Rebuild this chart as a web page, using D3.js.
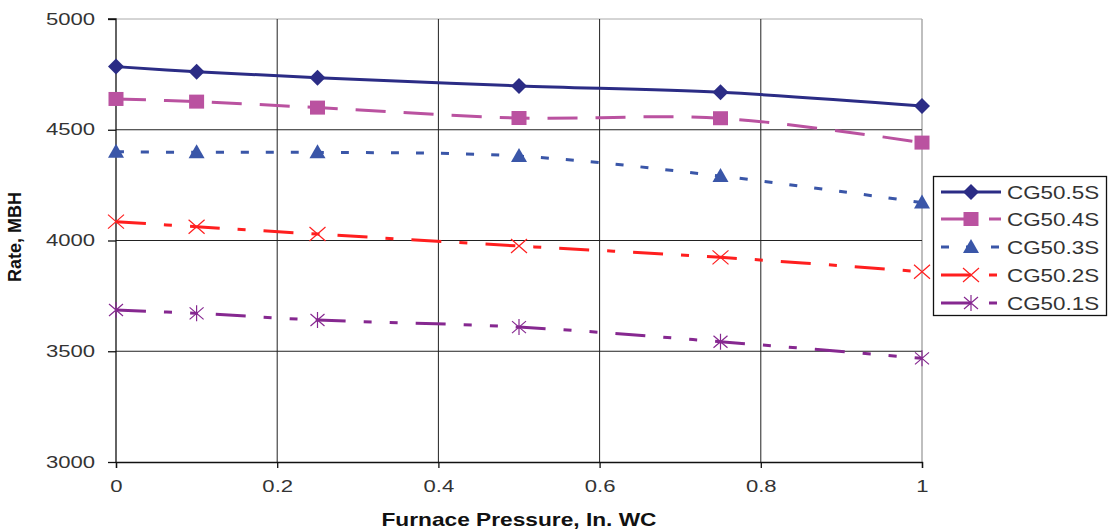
<!DOCTYPE html>
<html><head><meta charset="utf-8">
<script src="https://cdn.jsdelivr.net/npm/d3@7"></script>
<style>body{margin:0;background:#fff;}svg{display:block;}text{font-family:"Liberation Sans",Arial,sans-serif;}</style>
</head><body>
<svg id="c" width="1109" height="531"></svg>
<script>
const xValues = [0, 0.1, 0.25, 0.5, 0.75, 1];
const cg505S = [4785, 4762, 4735, 4698, 4669, 4607];
const cg504S = [4639, 4627, 4600, 4553, 4552, 4442];
const cg503S = [4401, 4398, 4398, 4381, 4291, 4171];
const cg502S = [4085, 4062, 4029, 3975, 3924, 3859];
const cg501S = [3686, 3671, 3641, 3609, 3543, 3468];
const seriesNames = ["CG50.5S", "CG50.4S", "CG50.3S", "CG50.2S", "CG50.1S"];
const xTicks = [0, 0.2, 0.4, 0.6, 0.8, 1];
const yTicks = [3000, 3500, 4000, 4500, 5000];

const series = [
  {name: seriesNames[0], values: cg505S, color: "#2B2C85", dash: null, marker: "diamond"},
  {name: seriesNames[1], values: cg504S, color: "#BA52A0", dash: "30,18", marker: "square"},
  {name: seriesNames[2], values: cg503S, color: "#3A56A8", dash: "8,17", marker: "triangle"},
  {name: seriesNames[3], values: cg502S, color: "#FF1F1F", dash: "30,18,8,18", marker: "x"},
  {name: seriesNames[4], values: cg501S, color: "#862890", dash: "30,18,8,18,8,18", marker: "star"}
];

const svg = d3.select("#c");
const L = 116, R = 922, T = 19, B = 462;
const x = d3.scaleLinear().domain([0, 1]).range([L, R]);
const y = d3.scaleLinear().domain([3000, 5000]).range([B, T]);

function stretch(sel, k) {
  sel.each(function() {
    const w = this.getComputedTextLength();
    d3.select(this).attr("textLength", w * k).attr("lengthAdjust", "spacingAndGlyphs");
  });
}

// plot border (top/right gray)
svg.append("line").attr("x1", L).attr("x2", R).attr("y1", T).attr("y2", T).attr("stroke", "#aaa").attr("stroke-width", 1);
svg.append("line").attr("x1", R).attr("x2", R).attr("y1", T).attr("y2", B).attr("stroke", "#aaa").attr("stroke-width", 1.5);

// gridlines
svg.append("g").selectAll("line").data(yTicks.filter(v => v !== 3000 && v !== 5000)).join("line")
  .attr("x1", L).attr("x2", R).attr("y1", d => y(d)).attr("y2", d => y(d))
  .attr("stroke", "#222").attr("stroke-width", 1);
svg.append("g").selectAll("line").data(xTicks.filter(v => v !== 0 && v !== 1)).join("line")
  .attr("y1", T).attr("y2", B).attr("x1", d => x(d)).attr("x2", d => x(d))
  .attr("stroke", "#222").attr("stroke-width", 1);

// axes
const yAxis = d3.axisLeft(y).tickValues(yTicks).tickSize(8).tickPadding(13).tickFormat(d3.format("d"));
const gy = svg.append("g").attr("transform", `translate(${L},0)`).call(yAxis);
const xAxis = d3.axisBottom(x).tickValues(xTicks).tickSize(6).tickPadding(13).tickFormat(d => d === 0 ? "0" : d === 1 ? "1" : d3.format(".1f")(d));
const gx = svg.append("g").attr("transform", `translate(0,${B})`).call(xAxis);
[gx, gy].forEach(g => {
  g.select(".domain").attr("stroke", "#111").attr("stroke-width", 1.3);
  g.selectAll(".tick line").attr("stroke", "#111").attr("stroke-width", 1.3);
  g.selectAll(".tick text").attr("fill", "#333").style("font-size", "16px").style("font-family", "Liberation Sans, Arial, sans-serif");
  stretch(g.selectAll(".tick text"), 1.38);
});
gy.select(".domain").attr("d", `M-8,${T}H0V${B}`);

// axis titles
const xt = svg.append("text").attr("x", 519).attr("y", 526).attr("text-anchor", "middle")
  .style("font-size", "19px").style("font-weight", "bold").attr("fill", "#111").text("Furnace Pressure, In. WC");
xt.attr("textLength", 275).attr("lengthAdjust", "spacingAndGlyphs");
svg.append("text").attr("transform", `translate(21,237) rotate(-90)`).attr("text-anchor", "middle")
  .style("font-size", "18px").style("font-weight", "bold").attr("fill", "#111").text("Rate, MBH");

function drawMarker(g, type, color, cx, cy) {
  if (type === "diamond") {
    g.append("path").attr("d", `M${cx},${cy-8}L${cx+8},${cy}L${cx},${cy+8}L${cx-8},${cy}Z`).attr("fill", color);
  } else if (type === "square") {
    g.append("rect").attr("x", cx-7.5).attr("y", cy-7).attr("width", 15).attr("height", 14).attr("fill", color);
  } else if (type === "triangle") {
    g.append("path").attr("d", `M${cx},${cy-8}L${cx+8},${cy+6}L${cx-8},${cy+6}Z`).attr("fill", color);
  } else if (type === "x") {
    g.append("path").attr("d", `M${cx-8},${cy-7}L${cx+8},${cy+7}M${cx-8},${cy+7}L${cx+8},${cy-7}`).attr("stroke", color).attr("stroke-width", 1.2).attr("fill", "none");
  } else if (type === "star") {
    g.append("path").attr("d", `M${cx-7},${cy-6}L${cx+7},${cy+6}M${cx-7},${cy+6}L${cx+7},${cy-6}M${cx},${cy-8}L${cx},${cy+8}`).attr("stroke", color).attr("stroke-width", 1.2).attr("fill", "none");
  }
}

const line = d3.line().x((d, i) => x(xValues[i])).y(d => y(d)).curve(d3.curveCatmullRom.alpha(0.5));
series.forEach(s => {
  const g = svg.append("g");
  g.append("path").attr("d", line(s.values)).attr("fill", "none").attr("stroke", s.color)
    .attr("stroke-width", 3).attr("stroke-dasharray", s.dash);
  s.values.forEach((v, i) => drawMarker(g, s.marker, s.color, x(xValues[i]), y(v)));
});

// legend
const lg = svg.append("g");
lg.append("rect").attr("x", 933.5).attr("y", 176.5).attr("width", 173).attr("height", 139)
  .attr("fill", "#fff").attr("stroke", "#111").attr("stroke-width", 1.3);
const legY = [192, 219, 247, 275, 303];
series.forEach((s, i) => {
  const ly = legY[i];
  lg.append("line").attr("x1", 941).attr("x2", 1001).attr("y1", ly).attr("y2", ly)
    .attr("stroke", s.color).attr("stroke-width", 3).attr("stroke-dasharray", s.dash);
  drawMarker(lg, s.marker, s.color, 971, ly);
  const t = lg.append("text").attr("x", 1007).attr("y", ly + 6.5).style("font-size", "17.5px").attr("fill", "#333").text(s.name);
  stretch(t, 1.28);
});
</script>
</body></html>
